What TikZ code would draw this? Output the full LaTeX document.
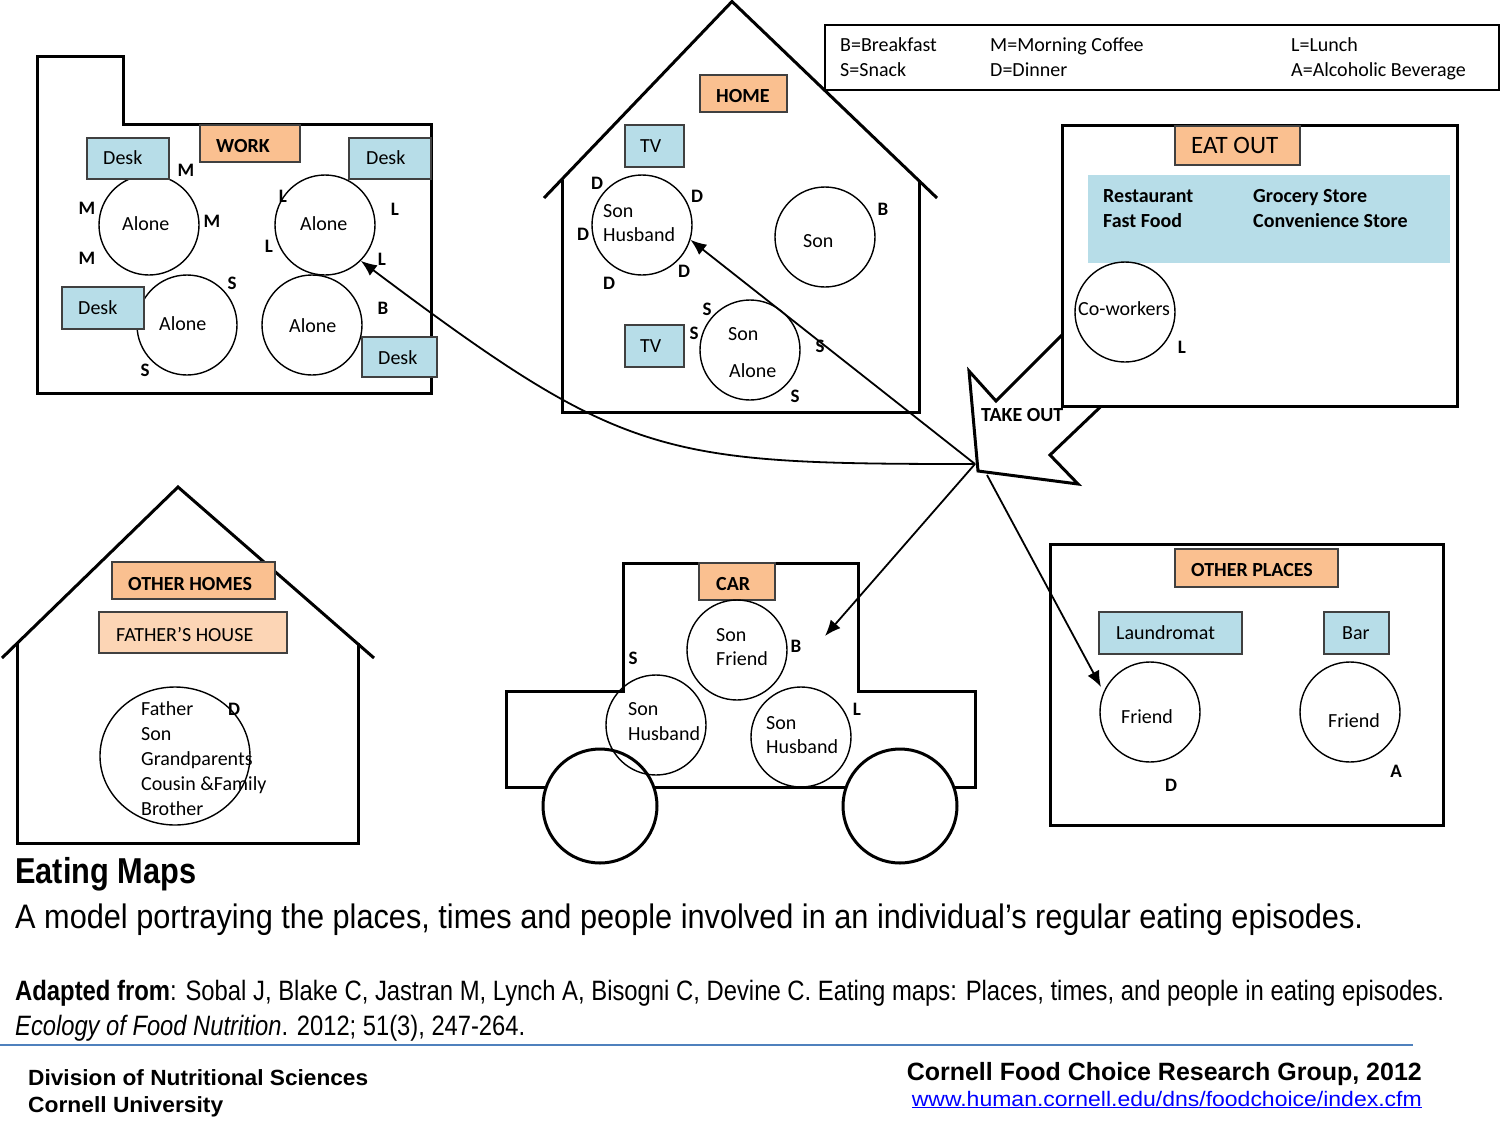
\documentclass[tikz,border=0pt]{standalone}
\usepackage{fontspec}
\setmainfont{Carlito}
\newfontfamily\arialf{Liberation Sans}
\usetikzlibrary{arrows.meta,shapes.geometric}
\definecolor{tagor}{HTML}{FAC090}
\definecolor{taglt}{HTML}{FCD5B5}
\definecolor{deskb}{HTML}{B7DDE8}
\definecolor{rulec}{HTML}{4F81BD}
\definecolor{urlb}{HTML}{0000FF}
\newcommand\fsz[1]{\fontsize{#1}{#1}\selectfont}
\begin{document}
\begin{tikzpicture}[x=1pt,y=-1pt,
  wall/.style={line width=3pt,line join=miter},
  pers/.style={circle,draw,line width=1.4pt,minimum size=100pt,inner sep=0pt},
  wheel/.style={circle,draw,line width=3pt,fill=white,minimum size=114pt,inner sep=0pt},
  tag/.style={draw=black!75,line width=1.4pt,fill=tagor,inner sep=0pt},
  taglight/.style={draw=black!75,line width=1.4pt,fill=taglt,inner sep=0pt},
  desk/.style={draw=black!75,line width=1.4pt,fill=deskb,inner sep=0pt},
  txt/.style={font=\fsz{20},inner sep=0pt,anchor=base west},
  btxt/.style={font=\bfseries\fsz{20},inner sep=0pt,anchor=base west},
  meal/.style={font=\bfseries\fsz{19},inner sep=0pt},
  flow/.style={line width=1.8pt,-{Latex[length=16pt,width=13pt,fill=black]}},
  foot/.style={inner sep=0pt,anchor=base west},
  footr/.style={inner sep=0pt,anchor=base east}
]
\useasboundingbox (0,0) rectangle (1500,1125);

% ================= WORK =================
\draw[wall] (37,56) -- (123,56) -- (123,124) -- (431,124) -- (431,393) -- (37,393) -- cycle;
\node[pers] (w1) at (149,225) {};
\node[pers] (w2) at (325,225) {};
\node[pers] (w3) at (187,325) {};
\node[pers] (w4) at (312,325) {};
\node[tag,minimum width=100pt,minimum height=37pt] (workbox) at (250,143.5) {};
\node[desk,minimum width=82pt,minimum height=41pt] (desk1) at (128,158.5) {};
\node[desk,minimum width=82pt,minimum height=41pt] (desk2) at (390,158.5) {};
\node[desk,minimum width=82pt,minimum height=42pt] (desk3) at (103,308) {};
\node[desk,minimum width=75pt,minimum height=40pt] (desk4) at (399.5,357) {};
\node[btxt] (workt) at (216,152) {WORK};
\node[txt] (d1t) at (103,164) {Desk};
\node[txt] (d2t) at (366,164) {Desk};
\node[txt] (d3t) at (78,314) {Desk};
\node[txt] (d4t) at (378,364) {Desk};
\node[txt] (w1t) at (122,230) {Alone};
\node[txt] (w2t) at (300,230) {Alone};
\node[txt] (w3t) at (159,330) {Alone};
\node[txt] (w4t) at (289,332) {Alone};

% ================= HOME =================
\draw[wall] (544,198) -- (732,1.5) -- (937,198);
\draw[wall] (562,180) -- (562,412) -- (919,412) -- (919,180);
\node[tag,minimum width=87pt,minimum height=37pt] (homebox) at (743.5,93.5) {};
\node[desk,minimum width=59pt,minimum height=42pt] (tv1) at (654.5,146) {};
\node[desk,minimum width=59pt,minimum height=42pt] (tv2) at (654.5,346) {};
\node[pers] (h1) at (642,225) {};
\node[pers] (h2) at (825,237) {};
\node[pers] (h3) at (750,350) {};
\node[btxt] (homet) at (716,102) {HOME};
\node[txt] (tv1t) at (640,152) {TV};
\node[txt] (tv2t) at (640,352) {TV};
\node[txt] (h1a) at (603,217) {Son};
\node[txt] (h1b) at (603,241) {Husband};
\node[txt] (h2a) at (803,247) {Son};
\node[txt] (h3a) at (728,340) {Son};
\node[txt] (h3b) at (729,377) {Alone};

% ================= LEGEND =================
\node[draw,line width=1.5pt,fill=white,minimum width=674pt,minimum height=65pt,inner sep=0pt] (legend) at (1162,57.5) {};
\node[txt] (lg1) at (840,51) {B=Breakfast};
\node[txt] (lg2) at (840,76) {S=Snack};
\node[txt] (lg3) at (990,51) {M=Morning Coffee};
\node[txt] (lg4) at (990,76) {D=Dinner};
\node[txt] (lg5) at (1291,51) {L=Lunch};
\node[txt] (lg6) at (1291,76) {A=Alcoholic Beverage};

% ================= TAKE OUT + EAT OUT =================
\draw[wall,fill=white] (1075,322) -- (996,401) -- (969,371) -- (978,471) -- (1078,484) -- (1050,455) -- (1115,393) -- cycle;
\draw[wall,fill=white] (1062,125) rectangle (1457,406);
\node[tag,minimum width=125pt,minimum height=39pt] (eatbox) at (1237.5,145.5) {};
\node[fill=deskb,minimum width=362pt,minimum height=88pt,inner sep=0pt] (band) at (1269,219) {};
\node[pers] (co) at (1125,312) {};
\node[txt,font=\fsz{25}] (eatt) at (1191,153) {EAT OUT};
\node[btxt] (e1) at (1103,202) {Restaurant};
\node[btxt] (e2) at (1103,227) {Fast Food};
\node[btxt] (e3) at (1253,202) {Grocery Store};
\node[btxt] (e4) at (1253,227) {Convenience Store};
\node[txt] (cot) at (1078,315) {Co-workers};

% ================= OTHER HOMES =================
\draw[wall] (2,658) -- (178,487) -- (374,658);
\draw[wall] (17,643) -- (17,843) -- (358,843) -- (358,643);
\node[tag,minimum width=163pt,minimum height=37pt] (ohbox) at (193.5,580.5) {};
\node[taglight,minimum width=188pt,minimum height=41pt] (fhbox) at (193,632.5) {};
\node[ellipse,draw,line width=1.4pt,minimum width=150pt,minimum height=138pt,inner sep=0pt] (fam) at (175,756) {};
\node[btxt] (oht) at (128,590) {OTHER HOMES};
\node[txt] (fht) at (116,641) {FATHER’S HOUSE};
\node[txt] (fa1) at (141,715) {Father};
\node[txt] (fa2) at (141,740) {Son};
\node[txt] (fa3) at (141,765) {Grandparents};
\node[txt] (fa4) at (141,790) {Cousin \&Family};
\node[txt] (fa5) at (141,815) {Brother};

% ================= CAR =================
\draw[wall] (623,563) -- (858,563) -- (858,691) -- (975,691) -- (975,787) -- (506,787) -- (506,691) -- (623,691) -- cycle;
\node[wheel] (wl) at (600,806) {};
\node[wheel] (wr) at (900,806) {};
\node[tag,minimum width=76pt,minimum height=37pt] (carbox) at (737,581.5) {};
\node[pers] (c1) at (737,650) {};
\node[pers] (c2) at (656,725) {};
\node[pers] (c3) at (801,737) {};
\node[btxt] (cart) at (716,590) {CAR};
\node[txt] (c1a) at (716,641) {Son};
\node[txt] (c1b) at (716,665) {Friend};
\node[txt] (c2a) at (628,715) {Son};
\node[txt] (c2b) at (628,740) {Husband};
\node[txt] (c3a) at (766,729) {Son};
\node[txt] (c3b) at (766,753) {Husband};

% ================= OTHER PLACES =================
\draw[wall] (1050,544) rectangle (1443,825);
\node[tag,minimum width=163pt,minimum height=38pt] (opbox) at (1256.5,568) {};
\node[desk,minimum width=143pt,minimum height=42pt] (laun) at (1170.5,633) {};
\node[desk,minimum width=65pt,minimum height=42pt] (bar) at (1356.5,633) {};
\node[pers] (f1) at (1150,712) {};
\node[pers] (f2) at (1350,712) {};
\node[btxt] (opt) at (1191,576) {OTHER PLACES};
\node[txt] (laut) at (1116,639) {Laundromat};
\node[txt] (bart) at (1342,639) {Bar};
\node[txt] (f1t) at (1121,723) {Friend};
\node[txt] (f2t) at (1328,727) {Friend};

% ================= CONNECTORS =================
\coordinate (tip) at (975,464);
\coordinate (tip2) at (987,475);
\coordinate (carpt) at (825,636);
\coordinate (plpt) at (1101,687);
\draw[flow] (tip) .. controls (660,464) and (625,459) .. (w2.-45);
\draw[flow] (tip) -- (h1.-17);
\draw[flow] (tip) -- (carpt);
\draw[flow] (tip2) -- (plpt);
\node[btxt] (tot) at (981,421) {TAKE OUT};

% ================= MEAL LETTERS =================
\node[meal] (m1) at (186,170) {M};
\node[meal] (m2) at (87,208) {M};
\node[meal] (m3) at (212,221) {M};
\node[meal] (m4) at (87,258) {M};
\node[meal] (m5) at (232,283) {S};
\node[meal] (m6) at (145,370) {S};
\node[meal] (m7) at (283,196) {L};
\node[meal] (m8) at (395,209) {L};
\node[meal] (m9) at (269,246) {L};
\node[meal] (m10) at (382,259) {L};
\node[meal] (m11) at (383,308) {B};
\node[meal] (n1) at (597,183) {D};
\node[meal] (n2) at (697,196) {D};
\node[meal] (n3) at (583,234) {D};
\node[meal] (n4) at (684,271) {D};
\node[meal] (n5) at (609,283) {D};
\node[meal] (n6) at (883,209) {B};
\node[meal] (n7) at (707,309) {S};
\node[meal] (n8) at (694,333) {S};
\node[meal] (n9) at (820,346) {S};
\node[meal] (n10) at (795,396) {S};
\node[meal] (q1) at (1182,347) {L};
\node[meal] (q2) at (234,709) {D};
\node[meal] (q3) at (633,658) {S};
\node[meal] (q4) at (796,646) {B};
\node[meal] (q5) at (857,709) {L};
\node[meal] (q6) at (1171,785) {D};
\node[meal] (q7) at (1396,771) {A};

% ================= FOOTER =================
\node[foot] (title) at (15,883) {\resizebox{181pt}{\height}{\arialf\bfseries\fsz{36}Eating Maps}};
\node[foot] (sub) at (15,928) {\resizebox{1348pt}{\height}{\arialf\fsz{34}A model portraying the places, times and people involved in an individual’s regular eating episodes.}};
\node[foot] (src) at (15,1000) {\resizebox{1429pt}{\height}{\arialf\fsz{28}\textbf{Adapted from}: Sobal J, Blake C, Jastran M, Lynch A, Bisogni C, Devine C. Eating maps: Places, times, and people in eating episodes.}};
\node[foot] (jour) at (15,1035) {\resizebox{510pt}{\height}{\arialf\fsz{28}\textit{Ecology of Food Nutrition}. 2012; 51(3), 247-264.}};
\coordinate (rl) at (0,1045);
\coordinate (rr) at (1413,1045);
\draw[rulec,line width=2pt] (rl) -- (rr);
\node[foot] (div) at (28,1085) {\resizebox{340pt}{\height}{\arialf\bfseries\fsz{22}Division of Nutritional Sciences}};
\node[foot] (cu) at (28,1112) {\resizebox{195pt}{\height}{\arialf\bfseries\fsz{22}Cornell University}};
\node[footr] (grp) at (1422,1080) {\resizebox{515pt}{\height}{\arialf\bfseries\fsz{25}Cornell Food Choice Research Group, 2012}};
\node[footr] (url) at (1422,1106) {\resizebox{510pt}{\height}{\arialf\fsz{21}\color{urlb}\underline{www.human.cornell.edu/dns/foodchoice/index.cfm}}};
\end{tikzpicture}
\end{document}
